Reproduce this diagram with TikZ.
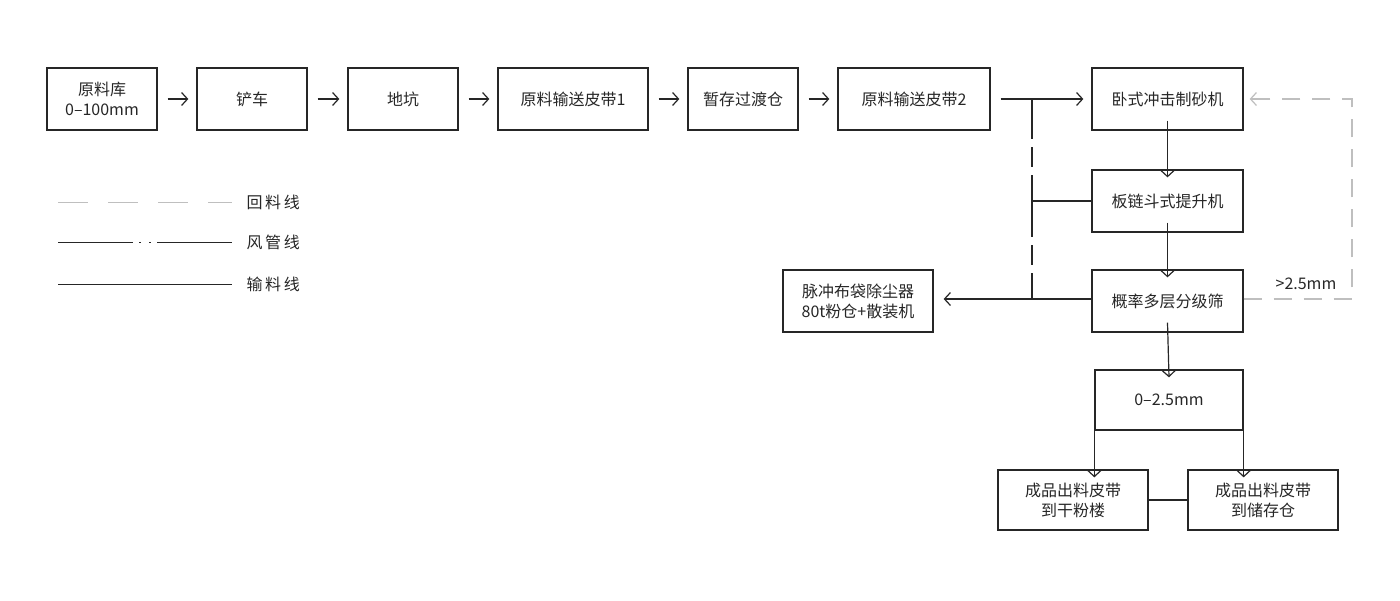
\documentclass[tikz,border=0pt]{standalone}
\usepackage{fontspec}
\setmainfont{Noto Sans CJK SC}
\usetikzlibrary{arrows.meta}
\begin{document}
\begin{tikzpicture}[x=1pt,y=-1pt,
  bx/.style={draw=black!85,line width=1.3pt,minimum height=62pt,font=\fontsize{16}{20}\selectfont,align=center,text=black!85,inner sep=0pt},
  ar/.style={-{Straight Barb[length=6pt,width=13pt]},line width=1.2pt,draw=black!85},
  ln/.style={line width=1.3pt,draw=black!85},
  ret/.style={line width=1.2pt,draw=black!25,dash pattern=on 18pt off 12pt},
  lab/.style={font=\fontsize{16}{20}\selectfont,text=black!85}]
\useasboundingbox (0,0) rectangle (1400,600);
\node[bx,minimum width=110pt] (a) at (102,99) {原料库\\0–100mm};
\node[bx,minimum width=110pt] (b) at (252,99) {铲车};
\node[bx,minimum width=110pt] (c) at (403,99) {地坑};
\node[bx,minimum width=150pt] (d) at (573,99) {原料输送皮带1};
\node[bx,minimum width=110pt] (e) at (743,99) {暂存过渡仓};
\node[bx,minimum width=152pt] (f) at (914,99) {原料输送皮带2};
\node[bx,minimum width=151pt] (g) at (1167.5,99) {卧式冲击制砂机};
\node[bx,minimum width=151pt] (h) at (1167.5,201) {板链斗式提升机};
\node[bx,minimum width=151pt] (i) at (1167.5,301) {概率多层分级筛};
\node[bx,minimum width=148pt,minimum height=60pt] (j) at (1169,400) {0–2.5mm};
\node[bx,minimum width=150pt,minimum height=60pt] (k) at (1073,500) {成品出料皮带\\到干粉楼};
\node[bx,minimum width=150pt,minimum height=60pt] (l) at (1263,500) {成品出料皮带\\到储存仓};
\node[bx,minimum width=150pt] (m) at (858,301) {脉冲布袋除尘器\\80t粉仓+散装机};
\foreach \u/\v in {a/b,b/c,c/d,d/e,e/f}
  \draw[ar] ([xshift=10pt]\u.east) -- ([xshift=-8pt]\v.west);
\coordinate (t) at (1032,99);
\coordinate (s) at (1032,299);
\draw[ar] ([xshift=10pt]f.east) -- ([xshift=-8pt]g.west);
\draw[ln,dash pattern=on 40pt off 8pt on 20pt off 8pt on 62pt off 8pt on 20pt off 8pt on 40pt] (t) -- (s);
\draw[ln] (1032,201) -- (h.west);
\draw[ln] (i.west|-s) -- (s);
\draw[ar] (s) -- ([xshift=10pt]m.east|-s);
\draw[ar] ([yshift=10pt]g.south) -- ([yshift=-8pt]h.north);
\draw[ar] ([yshift=10pt]h.south) -- ([yshift=-8pt]i.north);
\draw[ar] ([yshift=10pt]i.south) -- ([yshift=-8pt]j.north);
\draw[ar] ([yshift=7pt]j.south west) -- (j.south west|-k.north) -- +(0,-8pt);
\draw[ar] ([yshift=7pt]j.south east) -- ([yshift=-8pt]j.south east|-l.north);
\draw[ln] (k) -- (l);
\coordinate (r1) at (1352,299);
\coordinate (r2) at (1352,99);
\draw[ret] (i.east|-r1) -- (r1) -- (r2) -- ([xshift=8pt]g.east);
\draw[line width=1.2pt,draw=black!25,-{Straight Barb[length=6pt,width=13pt]}] (1265,99) -- ([xshift=6pt]g.east);
\node[lab] (rl) at (1306,284) {>2.5mm};
% legend
\coordinate (l1a) at (58,202); \coordinate (l1b) at (232,202);
\coordinate (l2a) at (58,242); \coordinate (l2b) at (232,242);
\coordinate (l3a) at (58,284); \coordinate (l3b) at (232,284);
\draw[line width=0.8pt,draw=black!25,dash pattern=on 30pt off 20pt] (l1a) -- (l1b);
\draw[line width=1pt,draw=black!85,dash pattern=on 75pt off 6pt on 2pt off 8pt on 2pt off 6pt on 80pt] (l2a) -- (l2b);
\draw[line width=1pt,draw=black!85] (l3a) -- (l3b);
\node[lab,anchor=west] (t1) at (243,202) {回\,料\,线};
\node[lab,anchor=west] (t2) at (243,242) {风\,管\,线};
\node[lab,anchor=west] (t3) at (243,284) {输\,料\,线};
\end{tikzpicture}
\end{document}
